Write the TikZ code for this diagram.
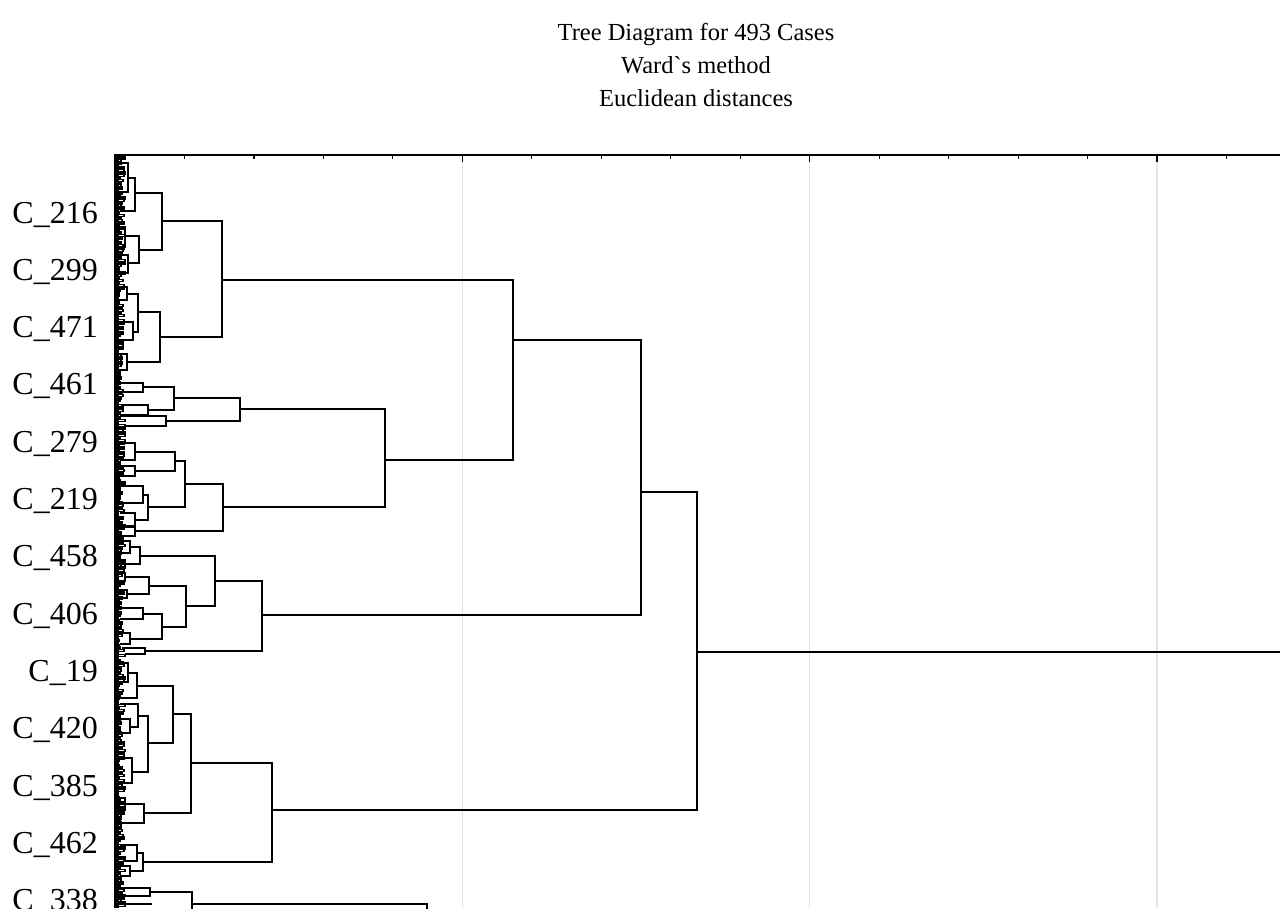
\documentclass[tikz,border=0pt]{standalone}
\usepackage{fontspec}
\setmainfont{Liberation Serif}
\newfontfamily\ttlfont{Liberation Serif}[Ligatures=ResetAll]
\begin{document}
\begin{tikzpicture}[x=1pt,y=-1pt,
  dend/.style={line width=2.1pt,line join=miter,black},
  leafb/.style={line width=1.3pt,black},
  axisl/.style={line width=2.4pt,black},
  gridl/.style={line width=1.4pt,color=black!10},
  lab/.style={font=\fontsize{32}{32}\selectfont,anchor=base east,inner sep=0pt},
  ttl/.style={font=\ttlfont\fontsize{24.5}{24.5}\selectfont,anchor=base,inner sep=0pt}]
\useasboundingbox (0,0) rectangle (1280,908);
\clip (0,0) rectangle (1280,908);
% title
\node[ttl] (t1) at (696,40) {Tree Diagram for 493 Cases};
\node[ttl] (t2) at (696,73) {Ward`s method};
\node[ttl] (t3) at (696,106) {Euclidean distances};
% grid lines
\foreach \k in {1,2,3} \draw[gridl] ({115+347.33*\k},156) -- ({115+347.33*\k},908);
% ticks
\foreach \k in {1,...,16} \draw[line width=1.2pt] ({115+69.47*\k},155) -- ({115+69.47*\k},159);
\foreach \k in {1,2,3} \draw[line width=1.4pt] ({115+347.33*\k},155) -- ({115+347.33*\k},162);
% labels
\foreach \t [count=\i from 0] in {216,299,471,461,279,219,458,406,19,420,385,462,338}
  \node[lab] (l\t) at (98,{223+57.3*\i}) {C\_\t};
% dense leaf brackets
\fill[black] (114,156) rectangle (118.5,908);
\pgfmathsetseed{11}
\foreach \i in {0,...,299} {
  \pgfmathsetmacro\yy{158+2.5*\i}
  \pgfmathsetmacro\ww{117+random(1,8)}
  \draw[leafb] (115,\yy-1) -- (\ww,\yy-1) -- (\ww,\yy+1) -- (115,\yy+1);
}
% merges: x / y1 / x1 / y2 / x2
\foreach \x/\ya/\xa/\yb/\xb in {
  697/492/641/810/272,
  641/340/513/615/262,
  513/280/222/460/385,
  222/221/162/337/160,
  162/193/135/250/139,
  135/178/128/211/120,
  128/163/118/192/120,
  139/236/125/263/128,
  125/227/117/247/118,
  128/255/118/273/117,
  160/312/138/362/127,
  138/294/127/332/133,
  127/287/117/300/118,
  133/322/118/340/120,
  127/354/118/370/117,
  385/409/240/507/223,
  240/398/174/421/166,
  174/387/143/410/148,
  143/383/120/392/122,
  148/405/122/415/120,
  166/416/122/426/125,
  223/484/185/531/135,
  185/461/175/507/148,
  175/452/135/471/135,
  135/443/118/460/120,
  135/466/120/476/118,
  148/495/143/520/135,
  143/486/120/503/118,
  135/513/120/526/118,
  135/527/122/536/118,
  262/581/215/651/145,
  215/556/140/606/186,
  140/547/130/564/125,
  130/541/118/553/120,
  125/560/117/568/118,
  186/586/149/627/162,
  149/577/125/594/127,
  125/573/117/581/118,
  127/590/118/598/117,
  162/614/143/639/130,
  143/608/122/619/120,
  130/633/118/644/120,
  145/648/122/654/125,
  272/763/191/862/143,
  191/714/173/813/144,
  173/686/137/743/148,
  137/673/128/698/120,
  128/663/118/682/120,
  148/716/138/772/132,
  138/704/120/727/130,
  130/719/118/733/120,
  132/758/118/783/120,
  144/804/125/823/122,
  125/798/117/810/118,
  143/853/137/871/130,
  137/845/120/861/125,
  130/866/118/876/120,
  150/888/120/896/118,
  192/892/150/930/192,
  427/904/192/930/427}
  \draw[dend] (\xa,\ya) -- (\x,\ya) -- (\x,\yb) -- (\xb,\yb);
\draw[dend] (697,652) -- (1280,652);
\draw[dend] (118,904) -- (152,904);
% axes
\draw[axisl] (115,908) -- (115,155) -- (1280,155);
\end{tikzpicture}
\end{document}
